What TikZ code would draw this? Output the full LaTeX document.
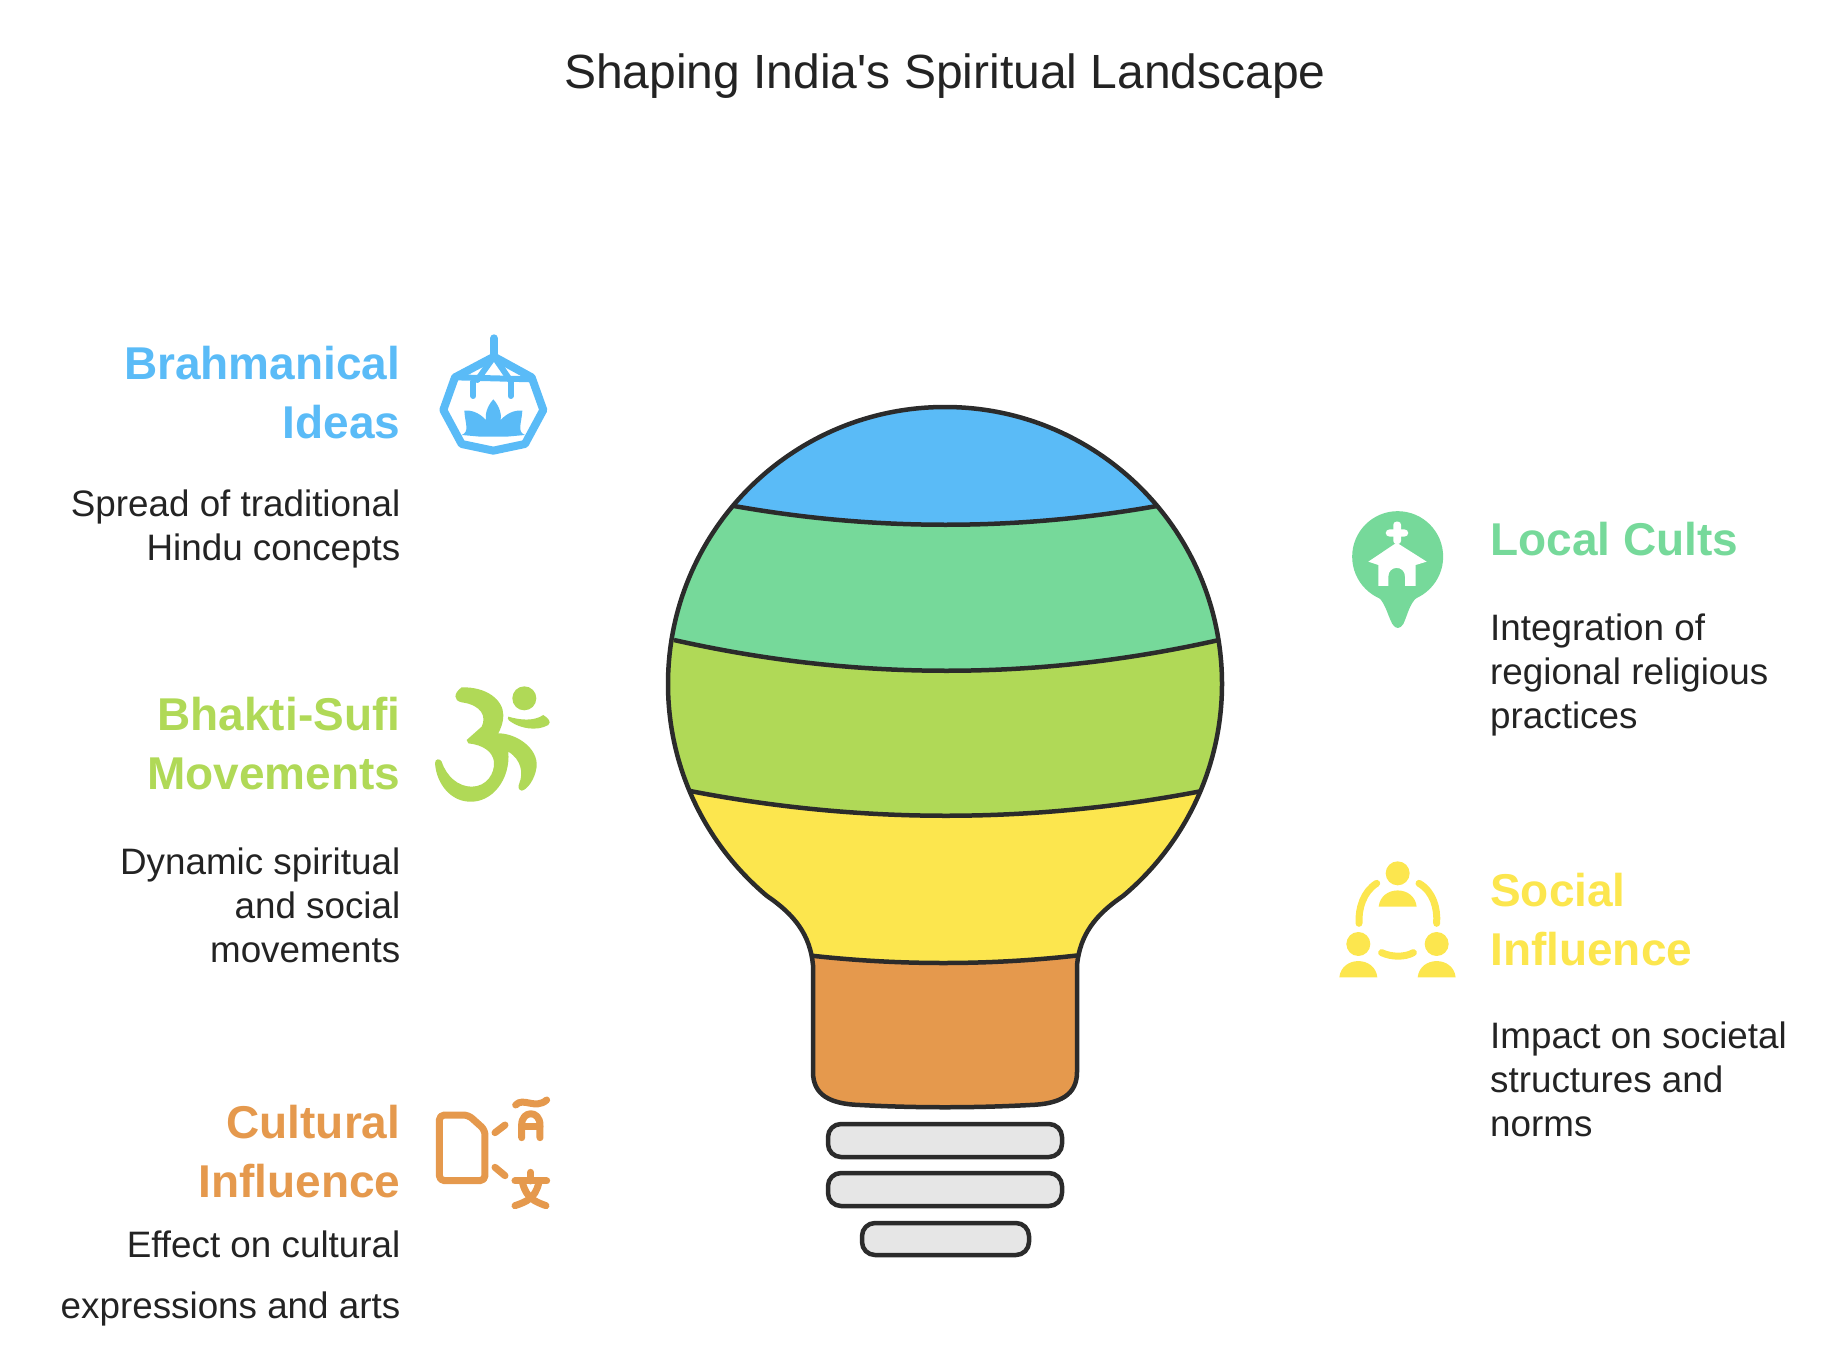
\documentclass[tikz,border=0pt]{standalone}
\usepackage{fontspec}
\setmainfont{Liberation Sans}
\newfontfamily\titlefont{Liberation Sans}
\definecolor{inkc}{HTML}{2B2B2B}
\definecolor{textc}{HTML}{232323}
\definecolor{bluec}{HTML}{5ABBF7}
\definecolor{greenc}{HTML}{76D99A}
\definecolor{limec}{HTML}{B0D957}
\definecolor{yellowc}{HTML}{FCE64E}
\definecolor{orangec}{HTML}{E5994D}
\definecolor{greyc}{HTML}{E6E6E6}
\tikzset{
  titletext/.style={inner sep=0pt, text=textc, font=\titlefont\fontsize{48}{56}\selectfont},
  headleft/.style={inner sep=0pt, anchor=north east, align=right, font=\fontsize{46}{58.5}\selectfont\bfseries},
  headright/.style={inner sep=0pt, anchor=north west, align=left, font=\fontsize{46}{58.5}\selectfont\bfseries},
  bodyleft/.style={inner sep=0pt, anchor=north east, align=right, text=textc, font=\fontsize{36.8}{44}\selectfont},
  bodyright/.style={inner sep=0pt, anchor=north west, align=left, text=textc, font=\fontsize{36.8}{44}\selectfont},
  bulbline/.style={draw=inkc, line width=4.5pt, line join=round},
  iconline/.style={line width=7pt, line cap=round, line join=round},
}
\def\bulbpath{(945,407) .. controls (1098,407) and (1222,531) .. (1222,684)
  .. controls (1222,766) and (1186,843) .. (1123,896)
  .. controls (1095,915) and (1080,935) .. (1077,965) -- (1077,1072)
  .. controls (1077,1095) and (1060,1104) .. (1030,1105) .. controls (975,1108) and (915,1108) .. (860,1105)
  .. controls (830,1104) and (813,1095) .. (813,1072) -- (813,965)
  .. controls (810,935) and (795,915) .. (767,896)
  .. controls (704,843) and (668,766) .. (668,684)
  .. controls (668,531) and (792,407) .. (945,407) -- cycle}
\begin{document}
\begin{tikzpicture}[x=1pt, y=-1pt]
\useasboundingbox (0,0) rectangle (1834,1364);

\node[titletext] (title) at (945,76){Shaping India's Spiritual Landscape};

\begin{scope}
\clip \bulbpath;
\fill[orangec] (660,400) rectangle (1230,1110);
\foreach \bandc/\lx/\ly/\rx/\cy in {yellowc/810/955.5/1077/965.5, limec/690/791/1202/824, greenc/674/640/1219/681, bluec/734/506/1157/531}{
  \fill[\bandc] (\lx,\ly) .. controls ({\lx+(\rx-\lx)/3},\cy) and ({\rx-(\rx-\lx)/3},\cy) .. (\rx,\ly) -- (1230,\ly) -- (1230,400) -- (660,400) -- (660,\ly) -- cycle;
  \draw[bulbline] (\lx,\ly) .. controls ({\lx+(\rx-\lx)/3},\cy) and ({\rx-(\rx-\lx)/3},\cy) .. (\rx,\ly);
}
\end{scope}
\draw[bulbline] \bulbpath;

\draw[bulbline, fill=greyc, rounded corners=13pt] (828,1124) rectangle (1062,1157);
\draw[bulbline, fill=greyc, rounded corners=13pt] (828,1173) rectangle (1062,1206);
\draw[bulbline, fill=greyc, rounded corners=13pt] (862,1223) rectangle (1029,1255);

\node[headleft, text=bluec] (head0) at (400.5,346){Brahmanical\\Ideas};
\node[bodyleft] (body0) at (400.5,490){Spread of traditional\\Hindu concepts};
\node[headleft, text=limec] (head1) at (400.5,697){Bhakti-Sufi\\Movements};
\node[bodyleft] (body1) at (400.5,848){Dynamic spiritual\\and social\\movements};
\node[headleft, text=orangec] (head2) at (400.5,1105){Cultural\\Influence};
\node[bodyleft, font=\fontsize{36.8}{61}\selectfont] (body2) at (400.5,1231){Effect on cultural\\expressions and arts};
\node[headright, text=greenc] (head3) at (1490,522){Local Cults};
\node[bodyright] (body3) at (1490,614){Integration of\\regional religious\\practices};
\node[headright, text=yellowc] (head4) at (1490,873){Social\\Influence};
\node[bodyright] (body4) at (1490,1022){Impact on societal\\structures and\\norms};

\begin{scope}[shift={(420,320)}, x=0.3333pt, y=-0.3333pt]
\draw[bluec, iconline, line width=8pt] (222,55) -- (222,110);
\draw[bluec, iconline, line width=8pt] (222,110) -- (105,172) -- (70,270) -- (125,372) -- (220,392) -- (315,372) -- (370,270) -- (335,172) -- cycle;
\draw[bluec, iconline, line width=6pt] (105,172) -- (335,178);
\draw[bluec, iconline, line width=6pt] (222,110) -- (172,180) (222,110) -- (270,180);
\draw[bluec, iconline, line width=6pt] (160,185) -- (160,228) (272,185) -- (272,228);
\fill[bluec] (220,238) .. controls (200,260) and (195,285) .. (198,300) .. controls (175,275) and (150,270) .. (133,272) .. controls (135,310) and (150,335) .. (125,345) -- (180,350) -- (260,350) -- (315,345) .. controls (290,335) and (305,310) .. (307,272) .. controls (290,270) and (265,275) .. (242,300) .. controls (245,285) and (240,260) .. (220,238) -- cycle;
\end{scope}

\begin{scope}[shift={(420,670)}, x=0.3333pt, y=-0.3333pt]
\fill[limec] (313,85) circle[radius=12pt];
\fill[limec] (265,140) .. controls (300,150) and (340,155) .. (370,135) .. controls (385,145) and (395,155) .. (385,165) .. controls (350,185) and (300,175) .. (272,155) .. controls (262,150) and (262,140) .. (265,140) -- cycle;
\fill[limec] (125,52) .. controls (200,50) and (250,90) .. (250,135) .. controls (250,160) and (240,180) .. (235,190) .. controls (290,190) and (355,235) .. (350,290) .. controls (345,330) and (320,360) .. (305,362) .. controls (295,360) and (293,350) .. (298,340) .. controls (310,310) and (305,270) .. (265,245) .. controls (272,330) and (215,398) .. (150,395) .. controls (95,395) and (50,345) .. (45,280) .. controls (45,265) and (60,265) .. (65,275) .. controls (80,320) and (115,350) .. (155,350) .. controls (200,350) and (225,310) .. (222,275) .. controls (218,245) and (190,225) .. (145,220) -- (140,210) -- (185,170) .. controls (200,140) and (185,105) .. (125,97) .. controls (100,92) and (100,70) .. (125,52) -- cycle;
\end{scope}

\begin{scope}[shift={(420,1085)}, x=0.3333pt, y=-0.3333pt]
\draw[orangec, iconline, rounded corners=5pt] (58,90) -- (145,90) -- (195,135) -- (195,287) -- (58,287) -- cycle;
\draw[orangec, iconline] (225,143) -- (255,120) (225,247) -- (255,272);
\draw[orangec, iconline] (287,60) .. controls (310,35) and (345,75) .. (380,45);
\draw[orangec, iconline] (305,158) -- (305,120) .. controls (305,75) and (360,75) .. (360,120) -- (360,158);
\draw[orangec, iconline] (305,125) -- (360,125);
\draw[orangec, iconline] (332,262) -- (332,288) (285,288) -- (380,288);
\draw[orangec, iconline] (308,295) .. controls (320,340) and (345,350) .. (378,362);
\draw[orangec, iconline] (356,295) .. controls (345,340) and (320,350) .. (285,362);
\end{scope}

\begin{scope}[shift={(1325,500)}, x=0.3333pt, y=-0.3333pt]
\fill[greenc] (218,170) circle[radius=45.5pt];
\fill[greenc] (150,285) .. controls (180,300) and (185,340) .. (202,372) .. controls (212,388) and (225,388) .. (235,372) .. controls (250,340) and (255,300) .. (288,285) -- cycle;
\fill[white, rounded corners=3pt] (205,65) rectangle (228,132);
\fill[white, rounded corners=4pt] (182,88) rectangle (250,110);
\fill[white] (215,128) -- (130,185) -- (160,195) -- (160,258) -- (190,258) -- (190,230) .. controls (190,195) and (240,195) .. (240,230) -- (240,258) -- (272,258) -- (272,195) -- (305,185) -- cycle;
\end{scope}

\begin{scope}[shift={(1325,850)}, x=0.3333pt, y=-0.3333pt]
\foreach \hx/\hy in {218/70, 100/282, 335/282}{
  \fill[yellowc] (\hx,\hy) circle[radius=12pt];
  \fill[yellowc] ({\hx-57},{\hy+100}) .. controls ({\hx-50},{\hy+35}) and ({\hx+50},{\hy+35}) .. ({\hx+57},{\hy+100}) -- cycle;
}
\draw[yellowc, iconline] (155,100) .. controls (115,125) and (100,175) .. (102,220);
\draw[yellowc, iconline] (282,100) .. controls (325,125) and (338,175) .. (335,220);
\draw[yellowc, iconline] (170,308) .. controls (200,322) and (240,322) .. (265,308);
\end{scope}
\end{tikzpicture}
\end{document}
